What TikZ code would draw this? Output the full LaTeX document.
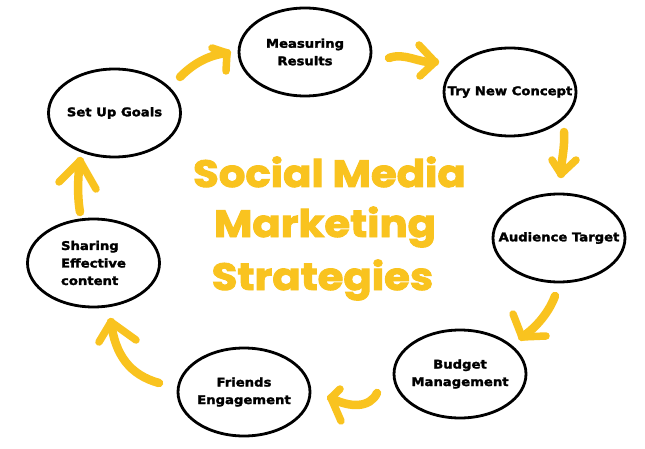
\documentclass[tikz,border=0pt]{standalone}
\usepackage{fontspec}
\setmainfont{DejaVu Sans}
\newfontfamily\labelfont[FakeBold=2,FakeStretch=1.1]{DejaVu Sans Bold}
\newfontfamily\titlefont[FakeBold=2.5,FakeStretch=1.1]{Poppins Bold}
\usetikzlibrary{shapes.geometric}
\definecolor{gold}{HTML}{F9C31F}
\begin{document}
\begin{tikzpicture}[x=1pt,y=-1pt,
  stage/.style={ellipse,draw=black,line width=2.8pt,inner xsep=-25pt,inner ysep=-15pt,minimum width=132pt,minimum height=88pt,font=\labelfont\fontsize{12}{17.5}\selectfont,align=center},
  flow/.style={draw=gold,line width=8.5pt,line cap=round,line join=round},
  headarm/.style={draw=gold,line width=7.5pt,line cap=round,line join=round},
  ttl/.style={text=gold,font=\titlefont\fontsize{38}{40}\selectfont,anchor=base,inner sep=0pt}]
\useasboundingbox (0,0) rectangle (645,449);
\fill[white] (0,0) rectangle (645,449);

\node[stage] (setup) at (114.5,113) {Set Up Goals};
\node[stage] (meas) at (305,52) {Measuring\\Results};
\node[stage] (trynew) at (510,92) {Try New Concept};
\node[stage] (aud) at (559,238) {Audience Target};
\node[stage] (budget) at (460,374) {Budget\\Management};
\node[stage] (friends) at (244,392) {Friends\\Engagement};
\node[stage,align=left] (sharing) at (93.5,263) {Sharing\\Effective\\content};

\node[ttl] (title1) at (329.5,187) {Social Media};
\node[ttl] (title2) at (325,237) {Marketing};
\node[ttl] (title3) at (322.5,290) {Strategies};

% arrows
\coordinate (s1) at (180,77); \coordinate (t1) at (227,53);
\coordinate (a1) at (212,48); \coordinate (b1) at (226,71);
\draw[flow] (s1) .. controls (195,62) and (210,55) .. (t1);
\draw[headarm] (a1) -- (t1) -- (b1);

\coordinate (s2) at (389,58); \coordinate (t2) at (435,62);
\coordinate (a2) at (419,45); \coordinate (b2) at (420,76);
\draw[flow] (s2) .. controls (405,52) and (420,64) .. (t2);
\draw[headarm] (a2) -- (t2) -- (b2);

\coordinate (s3) at (564,132); \coordinate (t3) at (561,174);
\coordinate (a3) at (552,160); \coordinate (b3) at (576,160);
\draw[flow] (s3) .. controls (565,150) and (561,160) .. (t3);
\draw[headarm] (a3) -- (t3) -- (b3);

\coordinate (s4) at (555,296); \coordinate (t4) at (522,337);
\coordinate (a4) at (513,314); \coordinate (b4) at (546,336);
\draw[flow] (s4) .. controls (548,315) and (533,330) .. (t4);
\draw[headarm] (a4) -- (t4) -- (b4);

\coordinate (s5) at (377,393); \coordinate (t5) at (331,398);
\coordinate (a5) at (340,389); \coordinate (b5) at (341,421);
\draw[flow] (s5) .. controls (370,408) and (350,408) .. (t5);
\draw[headarm] (a5) -- (t5) -- (b5);

\coordinate (s6) at (159,383); \coordinate (t6) at (111,322);
\coordinate (a6) at (99,342); \coordinate (b6) at (136,340);
\draw[flow] (s6) .. controls (130,375) and (115,355) .. (t6);
\draw[headarm] (a6) -- (t6) -- (b6);

\coordinate (s7) at (80,212); \coordinate (t7) at (80,161);
\coordinate (a7) at (59,182); \coordinate (b7) at (96,189);
\draw[flow] (s7) .. controls (77,195) and (78,175) .. (t7);
\draw[headarm] (a7) -- (t7) -- (b7);
\end{tikzpicture}
\end{document}
